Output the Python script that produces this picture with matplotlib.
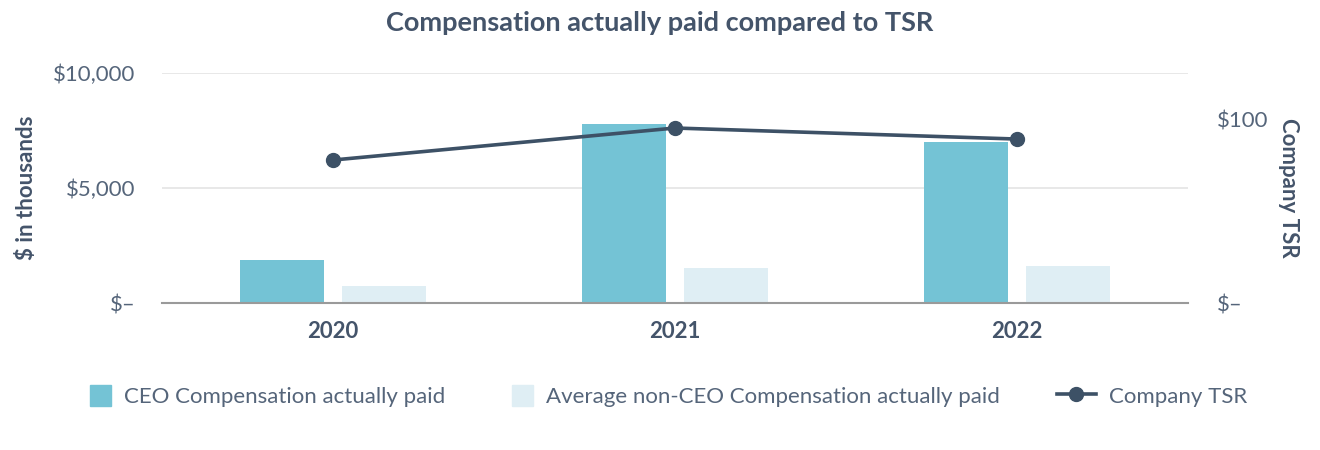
import numpy as np
import matplotlib.pyplot as plt
from matplotlib.patches import Patch
from matplotlib.lines import Line2D

plt.rcParams['font.family'] = ['Lato', 'DejaVu Sans']

# --- data ---
years = ['2020', '2021', '2022']
ceo_cap = [1870, 7780, 7000]        # $ in thousands
non_ceo_cap = [740, 1520, 1610]     # $ in thousands
company_tsr = [77.7, 95.1, 89.1]    # $

ceo_color = '#74C3D5'
non_ceo_color = '#DFEEF4'
line_color = '#3D5166'
text_color = '#44546A'

fig = plt.figure(figsize=(13.2, 4.5), dpi=100)
ax = fig.add_axes([162/1320, 1 - 303/450, 1026/1320, 230/450])
ax2 = ax.twinx()

x = np.arange(len(years))
w = 0.245
ax.bar(x - 0.148, ceo_cap, width=w, color=ceo_color, zorder=2)
ax.bar(x + 0.150, non_ceo_cap, width=w, color=non_ceo_color, zorder=2)
ax2.plot(x, company_tsr, color=line_color, lw=2.6, marker='o', markersize=10, zorder=3)

ax.set_xlim(-0.5, 2.5)
ax.set_ylim(0, 10000)
ax2.set_ylim(0, 125)

ax.set_yticks([0, 5000, 10000])
ax.set_yticklabels(['$\u2013', '$5,000', '$10,000'])
ax2.set_yticks([0, 100])
ax2.set_yticklabels(['$\u2013', '$100'])
ax.set_xticks(x)
ax.set_xticklabels(years, fontweight='bold', fontsize=16, color=text_color)

ax.grid(axis='y', color='#E6E6E6', lw=1.3, zorder=0)
ax.set_axisbelow(True)
for a in (ax, ax2):
    for s in a.spines.values():
        s.set_visible(False)
    a.tick_params(length=0, colors='#55657A', labelsize=16)
ax.spines['bottom'].set_visible(True)
ax.spines['bottom'].set_color('#9A9A9A')
ax.spines['bottom'].set_linewidth(1.5)
ax.tick_params(axis='y', pad=19)
ax.tick_params(axis='x', pad=13, colors=text_color)
ax2.tick_params(axis='y', pad=21)

ax.set_ylabel('$ in thousands', fontweight='bold', fontsize=16, color=text_color, labelpad=12)
ax2.set_ylabel('Company TSR', fontweight='bold', fontsize=16, color=text_color,
               rotation=270, labelpad=22)

fig.suptitle('Compensation actually paid compared to TSR', fontweight='bold',
             fontsize=19.5, color=text_color, y=0.975)

handles = [
    Patch(color=ceo_color, label='CEO Compensation actually paid'),
    Patch(color=non_ceo_color, label='Average non-CEO Compensation actually paid'),
    Line2D([], [], color=line_color, lw=2.6, marker='o', markersize=10, label='Company TSR'),
]
lefts = [90, 512, 1057]
hlens = [0.95, 0.95, 1.75]
for h, xl, hl in zip(handles, lefts, hlens):
    fig.legend(handles=[h], loc='center left', bbox_to_anchor=(xl/1320, 1 - 396/450),
               frameon=False, fontsize=16, labelcolor='#55657A', borderpad=0,
               borderaxespad=0, handlelength=hl, handleheight=1.1, handletextpad=0.6)

fig.savefig('out.png', dpi=100)
